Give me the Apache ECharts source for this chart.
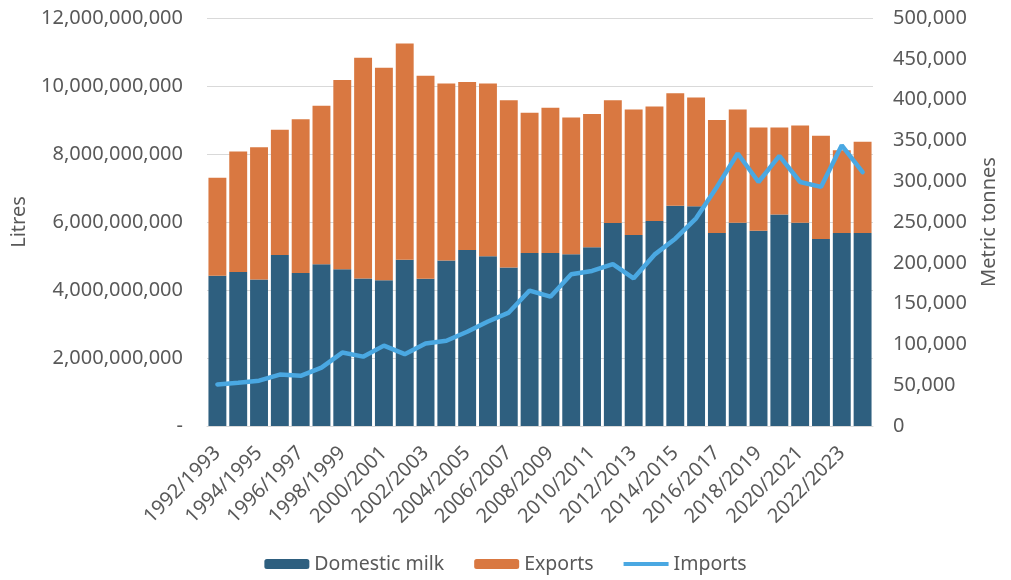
<!DOCTYPE html>
<html>
<head>
<meta charset="utf-8">
<script src="https://cdn.jsdelivr.net/npm/echarts@6/dist/echarts.min.js"></script>
<style>
  html, body { margin: 0; padding: 0; background: #fff; }
  #chart-container { width: 1011px; height: 580px; }
</style>
</head>
<body>
<div id="chart-container"></div>
<script>
var years = [
    '1992/1993', '1993/1994', '1994/1995', '1995/1996', '1996/1997', '1997/1998',
    '1998/1999', '1999/2000', '2000/2001', '2001/2002', '2002/2003', '2003/2004',
    '2004/2005', '2005/2006', '2006/2007', '2007/2008', '2008/2009', '2009/2010',
    '2010/2011', '2011/2012', '2012/2013', '2013/2014', '2014/2015', '2015/2016',
    '2016/2017', '2017/2018', '2018/2019', '2019/2020', '2020/2021', '2021/2022',
    '2022/2023', '2023/2024'
];

// litres, billions
var domesticMilk = [
    4.42, 4.53, 4.31, 5.03, 4.50, 4.76, 4.61, 4.34, 4.29, 4.89, 4.33, 4.87,
    5.18, 4.99, 4.66, 5.09, 5.09, 5.05, 5.26, 5.97, 5.62, 6.03, 6.48, 6.46,
    5.68, 5.98, 5.74, 6.22, 5.98, 5.50, 5.68, 5.68
];

// total height of each bar (domestic + exports), billions of litres
var totals = [
    7.30, 8.07, 8.20, 8.71, 9.02, 9.42, 10.18, 10.83, 10.54, 11.25, 10.30, 10.07,
    10.12, 10.07, 9.58, 9.21, 9.36, 9.07, 9.18, 9.58, 9.31, 9.40, 9.79, 9.66,
    9.00, 9.31, 8.78, 8.78, 8.84, 8.54, 8.11, 8.36
];

// metric tonnes, thousands
var imports = [
    51, 53, 55.5, 63, 61.5, 71.5, 90, 85, 98.5, 88, 101, 104.5,
    115.5, 128, 139, 166, 158.5, 186, 190, 198.5, 181, 210, 229.5, 254.5,
    293, 334, 299, 331, 299, 293, 344, 311
];

var B = 1e9;
var domesticLitres = domesticMilk.map(function (v) { return Math.round(v * B); });
var exportLitres = totals.map(function (t, i) { return Math.round((t - domesticMilk[i]) * B); });
var importTonnes = imports.map(function (v) { return v * 1000; });

var textColor = '#595959';
var fontFamily = 'Noto Sans, sans-serif';
var importColor = '#4AA8E2';

// thin bar in the middle of the legend box, so the imports key reads as a line
var lineIcon = 'path://M0,0 M0,3 L45,3 L45,7 L0,7 Z M45,10';

var dom = document.getElementById('chart-container');
var myChart = echarts.init(dom, null, { renderer: 'canvas' });

var option = {
    animation: false,
    textStyle: { fontFamily: fontFamily, color: textColor },
    grid: { left: 207, right: 138, top: 18, bottom: 154 },
    legend: {
        top: 549,
        left: 'center',
        itemWidth: 45,
        itemHeight: 10,
        itemGap: 30,
        textStyle: { fontSize: 19.5, color: textColor, fontFamily: fontFamily },
        data: [
            'Domestic milk',
            'Exports',
            { name: 'Imports', icon: lineIcon, itemStyle: { color: importColor, borderWidth: 0 } }
        ]
    },
    xAxis: {
        type: 'category',
        data: years,
        axisTick: { show: false },
        axisLine: { lineStyle: { color: '#d9d9d9' } },
        axisLabel: {
            interval: 1,
            rotate: 45,
            fontSize: 20,
            color: textColor,
            margin: 24
        }
    },
    yAxis: [
        {
            type: 'value',
            min: 0,
            max: 12 * B,
            interval: 2 * B,
            name: 'Litres',
            nameLocation: 'middle',
            nameGap: 178,
            nameTextStyle: { fontSize: 20, color: textColor },
            axisLabel: {
                fontSize: 20,
                color: textColor,
                margin: 24,
                formatter: function (v) { return v === 0 ? '-' : v.toLocaleString('en-US'); }
            },
            splitLine: { lineStyle: { color: '#d9d9d9', width: 1 } }
        },
        {
            type: 'value',
            min: 0,
            max: 500000,
            interval: 50000,
            name: 'Metric tonnes',
            nameLocation: 'middle',
            nameGap: 106,
            nameTextStyle: { fontSize: 20, color: textColor },
            axisLabel: {
                fontSize: 20,
                color: textColor,
                margin: 20,
                formatter: function (v) { return v.toLocaleString('en-US'); }
            },
            splitLine: { show: false }
        }
    ],
    series: [
        {
            name: 'Domestic milk',
            type: 'bar',
            stack: 'litres',
            barCategoryGap: '14%',
            itemStyle: { color: '#2E5F7F' },
            data: domesticLitres
        },
        {
            name: 'Exports',
            type: 'bar',
            stack: 'litres',
            itemStyle: { color: '#D97841' },
            data: exportLitres
        },
        {
            name: 'Imports',
            type: 'line',
            yAxisIndex: 1,
            symbol: 'none',
            lineStyle: { color: importColor, width: 4.5, cap: 'round' },
            itemStyle: { color: importColor },
            data: importTonnes
        }
    ]
};

myChart.setOption(option);
window.addEventListener('resize', myChart.resize);
</script>
</body>
</html>
